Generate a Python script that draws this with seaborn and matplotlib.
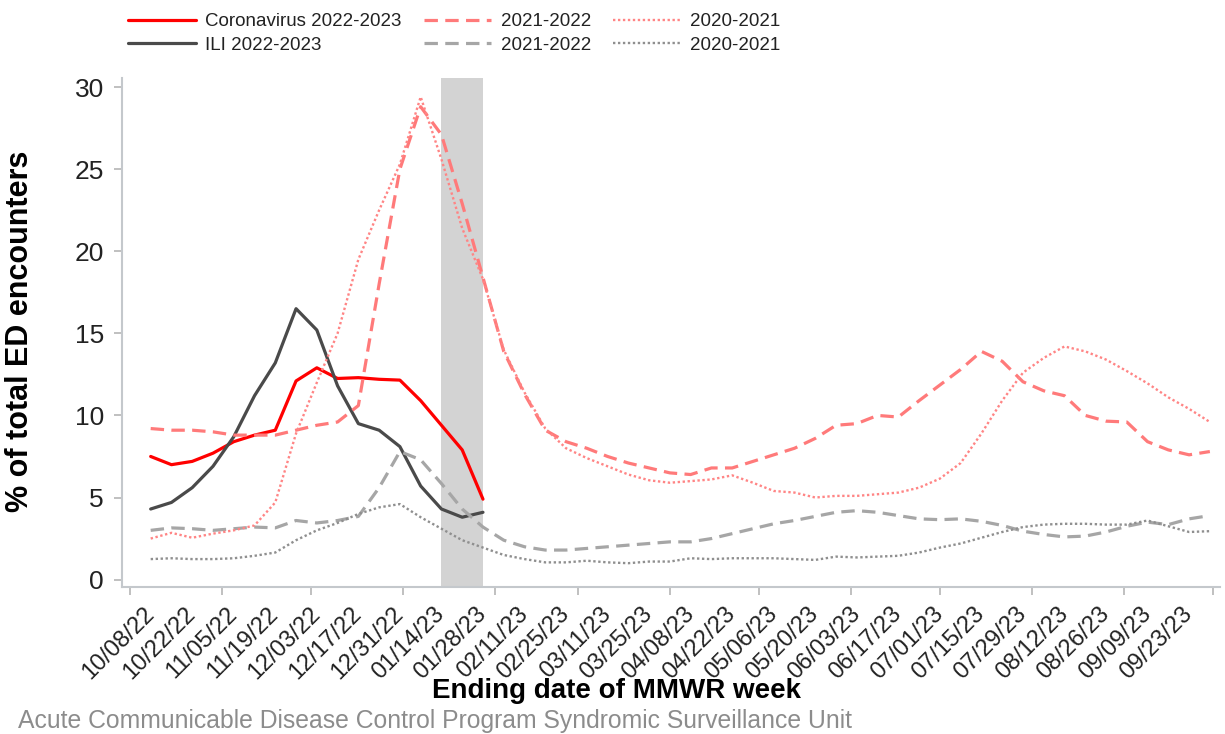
import pandas as pd
import numpy as np
import matplotlib
matplotlib.use("Agg")
import matplotlib.pyplot as plt
import matplotlib.dates as mdates
import seaborn as sns

# Semanas MMWR (data final de cada semana)
weeks = pd.date_range("2022-10-08", periods=52, freq="7D")

# Coronavirus / ILI temporada 2022-2023 (so ate 01/28/23)
covid_2223 = [7.5, 7.0, 7.2, 7.7, 8.4, 8.8, 9.1, 12.1, 12.9, 12.25, 12.3, 12.2, 12.15,
              10.9, 9.4, 7.9, 4.9]
ili_2223 = [4.3, 4.7, 5.6, 6.9, 8.7, 11.2, 13.2, 16.5, 15.2, 11.8, 9.5, 9.1, 8.1,
            5.7, 4.3, 3.8, 4.1]

# Temporadas anteriores
covid_2122 = [9.2, 9.1, 9.1, 9.0, 8.8, 8.8, 8.8, 9.1, 9.4, 9.6, 10.6,
              18.0, 25.0, 28.8, 27.1, 22.9, 18.4, 13.9, 11.3,
              9.1, 8.4, 8.0, 7.5, 7.1, 6.8, 6.5, 6.4, 6.8, 6.8, 7.2, 7.6, 8.0, 8.6, 9.4, 9.5, 10.0,
              9.9, 10.9, 11.85, 12.8, 13.9, 13.3, 12.05, 11.5, 11.2, 10.0, 9.65, 9.6, 8.4, 7.9, 7.6, 7.8]
covid_2021 = [2.5, 2.85, 2.55, 2.8, 3.0, 3.3, 4.7, 8.9, 12.0,
              15.0, 19.5, 22.5, 25.3, 29.4, 25.6, 21.4, 18.3, 14.0, 11.4,
              9.2, 8.0, 7.4, 6.9, 6.4, 6.05, 5.9, 6.0, 6.1, 6.35, 5.9, 5.4, 5.3, 5.0, 5.1, 5.1, 5.2,
              5.3, 5.6, 6.15, 7.1, 8.9, 10.9, 12.6, 13.5, 14.2, 13.9, 13.4, 12.7, 11.95, 11.1, 10.4, 9.6]
ili_2122 = [3.0, 3.15, 3.1, 3.0, 3.1, 3.2, 3.15, 3.6, 3.45, 3.6, 3.85, 5.6, 7.8, 7.3, 5.85, 4.3, 3.2,
            2.4, 2.0, 1.8, 1.8, 1.9, 2.0, 2.1, 2.2, 2.3, 2.3, 2.5, 2.8, 3.1, 3.4, 3.6, 3.85, 4.1, 4.2, 4.1,
            3.9, 3.7, 3.65, 3.7, 3.55, 3.3, 2.95, 2.75, 2.6, 2.65, 2.9, 3.25, 3.5, 3.35, 3.7, 3.9]
ili_2021 = [1.25, 1.3, 1.25, 1.25, 1.3, 1.45, 1.65, 2.4, 3.0, 3.45, 4.0, 4.4, 4.6, 3.8, 3.1, 2.4, 1.95,
            1.5, 1.25, 1.05, 1.05, 1.15, 1.05, 1.0, 1.1, 1.1, 1.3, 1.25, 1.3, 1.3, 1.3, 1.25, 1.2, 1.4, 1.35, 1.4,
            1.45, 1.65, 1.95, 2.2, 2.55, 2.9, 3.2, 3.35, 3.4, 3.4, 3.35, 3.35, 3.6, 3.25, 2.9, 2.95]

# Periodo com dados incompletos (faixa cinza)
incomplete_start = pd.Timestamp("2023-01-14")
incomplete_end = pd.Timestamp("2023-01-28")

sns.set_style("white")
plt.rcParams["font.family"] = ["Liberation Sans", "DejaVu Sans"]

fig = plt.figure(figsize=(12.25, 7.34), dpi=100)
ax = fig.add_axes([122 / 1225, 1 - 587 / 734, (1220 - 122) / 1225, (587 - 78) / 734])

ax.axvspan(incomplete_start, incomplete_end, color="#d3d3d3", lw=0, zorder=0)

dash = (0, (4.2, 2.3))
dot = (0, (1.0, 1.1))
n = len(covid_2223)
sns.lineplot(x=weeks[:n], y=covid_2223, ax=ax, color="#ff0000", lw=2.3, label="Coronavirus 2022-2023")
sns.lineplot(x=weeks[:n], y=ili_2223, ax=ax, color="#4a4a4a", lw=2.3, label="ILI 2022-2023")
sns.lineplot(x=weeks, y=covid_2122, ax=ax, color="#ff7a7a", lw=2.3, linestyle=dash, label="2021-2022")
sns.lineplot(x=weeks, y=ili_2122, ax=ax, color="#a6a6a6", lw=2.3, linestyle=dash, label="2021-2022")
sns.lineplot(x=weeks, y=covid_2021, ax=ax, color="#ff8585", lw=1.7, linestyle=dot, label="2020-2021")
sns.lineplot(x=weeks, y=ili_2021, ax=ax, color="#8f8f8f", lw=1.7, linestyle=dot, label="2020-2021")

handles, labels = ax.get_legend_handles_labels()
ax.get_legend().remove()

ax.set_xlim(pd.Timestamp("2022-09-28 08:00"), pd.Timestamp("2023-10-03 10:00"))
ax.set_ylim(-0.45, 30.55)

# Eixo y
ax.set_yticks(range(0, 31, 5))
ax.tick_params(axis="y", which="major", length=6, width=1.2, color="#b5b5b5",
               labelsize=19, labelcolor="#222222", pad=7, left=True)
ax.set_ylabel("")
fig.text(20 / 1225, 1 - 331 / 734, "% of total ED encounters", fontsize=22, fontweight="bold",
         rotation=90, ha="center", va="center", color="black")

# Eixo x: marcas no inicio do mes, rotulos a cada 2 semanas
ax.xaxis.remove_overlapping_locs = False
ax.xaxis.set_major_locator(mdates.MonthLocator())
ax.xaxis.set_major_formatter(plt.NullFormatter())
ax.tick_params(axis="x", which="major", length=6, width=1.2, color="#b5b5b5", bottom=True)
label_dates = weeks[::2]
ax.set_xticks(label_dates, minor=True)
ax.set_xticklabels([d.strftime("%m/%d/%y") for d in label_dates], minor=True)
ax.tick_params(axis="x", which="minor", length=0, pad=17, labelsize=17, labelcolor="#222222")
for t in ax.get_xticklabels(minor=True):
    t.set_rotation(45)
    t.set_ha("right")
    t.set_va("center")
    t.set_rotation_mode("anchor")
ax.set_xlabel("")

for s in ["top", "right"]:
    ax.spines[s].set_visible(False)
for s in ["left", "bottom"]:
    ax.spines[s].set_color("#c4c8cc")
    ax.spines[s].set_linewidth(1.5)

fig.text(617 / 1225, 1 - 698 / 734, "Ending date of MMWR week", fontsize=20, fontweight="bold",
         ha="center", va="baseline", color="black")
fig.text(18 / 1225, 1 - 728 / 734, "Acute Communicable Disease Control Program Syndromic Surveillance Unit",
         fontsize=17.8, color="#8c8c8c", ha="left", va="baseline")

fig.legend(handles, labels, ncol=3, loc="upper left", bbox_to_anchor=(128 / 1225, 1 - 13 / 734),
           frameon=False, fontsize=13.5, handlelength=3.6, handletextpad=0.5, columnspacing=1.2,
           labelspacing=0.35, borderpad=0, borderaxespad=0, labelcolor="#222222")

fig.savefig("out.png", dpi=100)
